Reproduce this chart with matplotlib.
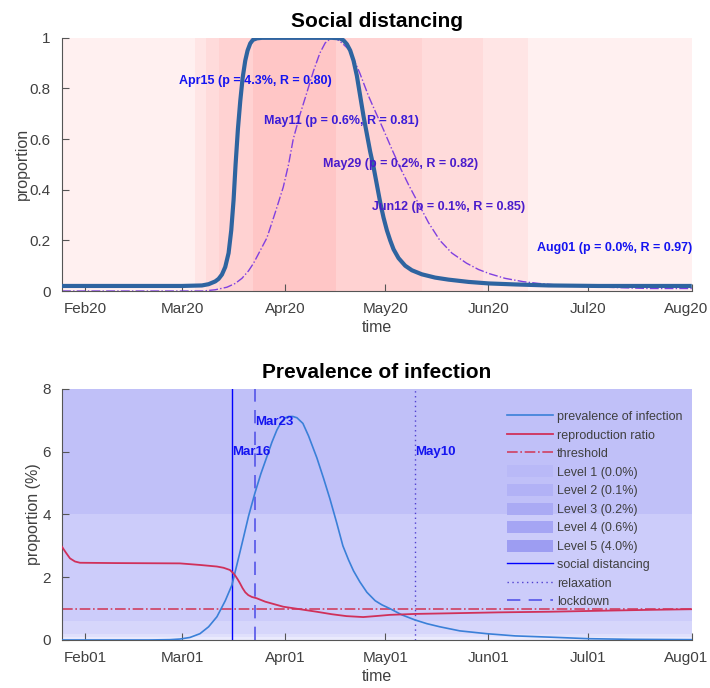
import matplotlib
matplotlib.use('Agg')
import matplotlib.pyplot as plt
import matplotlib.transforms as mtransforms
from matplotlib.patches import Patch
from matplotlib.lines import Line2D

plt.rcParams['font.family'] = ['Liberation Sans', 'DejaVu Sans']

# x axis: days since 2020-01-01
x_start, x_end = 24, 213
month_days = [31, 60, 91, 121, 152, 182, 213]
top_ticklabels = ['Feb20', 'Mar20', 'Apr20', 'May20', 'Jun20', 'Jul20', 'Aug20']
bottom_ticklabels = ['Feb01', 'Mar01', 'Apr01', 'May01', 'Jun01', 'Jul01', 'Aug01']

# social distancing (top, thick line)
sd_days = [24, 60, 66, 68, 70, 71, 72, 73, 74, 74.8, 75.5, 76.1, 76.8, 77.5, 78.2, 79,
           79.7, 80.5, 81.3, 82.5, 84, 105, 107.4, 108.5, 109.5, 110.5, 111.5, 112.5,
           113.5, 114.5, 115.5, 116.5, 117.5, 118.5, 119.5, 120.5, 121.5, 122.5, 123.5,
           125, 127, 129, 132, 136, 140, 146, 152, 160, 170, 185, 213]
sd_vals = [0.02, 0.02, 0.022, 0.027, 0.038, 0.048, 0.065, 0.095, 0.15, 0.24, 0.36, 0.5,
           0.64, 0.75, 0.84, 0.91, 0.95, 0.978, 0.992, 0.998, 1.0, 1.0, 0.998, 0.99,
           0.975, 0.95, 0.91, 0.85, 0.77, 0.69, 0.62, 0.55, 0.49, 0.42, 0.35, 0.29, 0.24,
           0.2, 0.165, 0.13, 0.1, 0.082, 0.066, 0.053, 0.045, 0.036, 0.03, 0.026, 0.022,
           0.02, 0.02]

# dash-dot curve (top)
dd_days = [24, 66.3, 70, 73.5, 76, 78, 80, 81.5, 83.5, 85.5, 88, 90.4, 92, 93.4, 95.5,
           97.4, 99.5, 101.4, 103, 104.9, 106.5, 108, 110.4, 113.4, 116, 118, 120.4,
           123, 125.4, 128, 130.4, 134, 137.4, 141, 145.4, 149, 152.4, 157, 162.4, 167,
           172.4, 182.4, 192, 200.4, 213]
dd_vals = [0, 0, 0.005, 0.015, 0.03, 0.05, 0.08, 0.11, 0.16, 0.21, 0.31, 0.41, 0.5, 0.6,
           0.7, 0.78, 0.87, 0.94, 0.98, 1.0, 0.995, 0.98, 0.95, 0.86, 0.77, 0.71, 0.64,
           0.56, 0.49, 0.42, 0.36, 0.27, 0.2, 0.15, 0.11, 0.085, 0.068, 0.05, 0.037,
           0.03, 0.024, 0.017, 0.013, 0.01, 0.01]

# shaded periods per level (top)
band_start = [24, 63.9, 67.2, 71.1, 81.3]
band_end = [213, 163.8, 150.3, 132, 106.2]
top_band_colors = ['#FFF0F0', '#FFE5E5', '#FFDBDB', '#FFD2D2', '#FFC6C6']

ann_dates = [105, 131, 149, 163, 213]
ann_y = [0.83, 0.67, 0.5, 0.33, 0.17]
ann_text = ['Apr15 (p = 4.3%, R = 0.80)', 'May11 (p = 0.6%, R = 0.81)',
            'May29 (p = 0.2%, R = 0.82)', 'Jun12 (p = 0.1%, R = 0.85)',
            'Aug01 (p = 0.0%, R = 0.97)']
ann_colors = ['#1414F0', '#3A1CD8', '#4A1CCC', '#4A1CCC', '#1414F0']

# prevalence of infection (%) (bottom)
prev_days = [24, 50, 56.4, 59.4, 62.4, 65.4, 68, 70.5, 73, 75, 76.5, 78.3, 80, 81.9,
             83.7, 85.5, 87, 88.5, 89.7, 90.9, 92, 93.3, 94.5, 96.3, 98, 100.5, 102.5,
             104.4, 106.4, 108.3, 110, 111.5, 113.4, 115.5, 118, 120, 122.4, 126, 129.9,
             133.5, 137.4, 143.4, 151.5, 160, 170.4, 182.4, 195, 213]
prev_vals = [0, 0, 0.01, 0.03, 0.08, 0.2, 0.42, 0.74, 1.25, 1.75, 2.4, 3.19, 3.95, 4.68,
             5.3, 5.84, 6.3, 6.69, 6.92, 7.07, 7.12, 7.12, 7.08, 6.9, 6.5, 5.8, 5.15,
             4.5, 3.75, 3.0, 2.55, 2.2, 1.85, 1.52, 1.25, 1.12, 1.0, 0.8, 0.64, 0.52,
             0.42, 0.29, 0.2, 0.13, 0.09, 0.04, 0.02, 0.01]

# reproduction ratio (bottom)
rr_days = [24, 25, 26.4, 27.9, 29.4, 40, 59.4, 65.4, 70.5, 72.5, 74.4, 75.2, 76, 76.8,
           77.4, 78.2, 79, 79.9, 81, 82.4, 85, 90.4, 95.4, 100.4, 105, 109.4, 114.4,
           118, 122.4, 130, 140.4, 155, 170.4, 185, 200.4, 213]
rr_vals = [2.97, 2.81, 2.6, 2.5, 2.46, 2.45, 2.44, 2.39, 2.34, 2.3, 2.23, 2.15, 2.05,
           1.92, 1.81, 1.65, 1.52, 1.43, 1.37, 1.33, 1.22, 1.06, 0.98, 0.9, 0.82, 0.76,
           0.73, 0.76, 0.8, 0.83, 0.85, 0.88, 0.9, 0.93, 0.96, 0.98]
threshold = 1.0

# prevalence levels (bottom)
level_edges = [0, 0.1, 0.2, 0.6, 4.0, 8.0]
level_labels = ['Level 1 (0.0%)', 'Level 2 (0.1%)', 'Level 3 (0.2%)', 'Level 4 (0.6%)', 'Level 5 (4.0%)']
bottom_band_colors = ['#EAEAFD', '#E0E0FC', '#D6D6FB', '#CCCCFA', '#C0C0F8']
legend_patch_colors = ['#B9B9F7', '#B2B2F6', '#AAAAF4', '#A5A5F4', '#9D9DF2']

sd_date, sd_label = 75, 'Mar16'
lock_date, lock_label = 82, 'Mar23'
relax_date, relax_label = 130, 'May10'

tick_color = '#404040'
spine_color = '#555555'

fig = plt.figure(figsize=(7.1, 6.88), dpi=100)


def style_axes(ax, labels):
    for s in ['top', 'right']:
        ax.spines[s].set_visible(False)
    for s in ['left', 'bottom']:
        ax.spines[s].set_color(spine_color)
    ax.set_xlim(x_start, x_end)
    ax.set_xticks(month_days)
    ax.set_xticklabels(labels)
    ax.tick_params(direction='in', length=5, color=spine_color, labelcolor=tick_color,
                   labelsize=11, pad=8)
    ax.set_xlabel('time', fontsize=11.5, color=tick_color, labelpad=3)
    # last label sits on the figure edge, nudge it in a little
    last = ax.get_xticklabels()[-1]
    last.set_transform(last.get_transform() +
                       mtransforms.ScaledTranslation(-4 / 72, 0, fig.dpi_scale_trans))


# ---- top: social distancing ----
ax1 = fig.add_axes([0.0873, 0.577, 0.887, 0.368])
for s, e, c in zip(band_start, band_end, top_band_colors):
    ax1.axvspan(s, e, color=c, lw=0, zorder=0)
ax1.plot(dd_days, dd_vals, color='#8040E0', lw=1, ls='-.', zorder=2)
ax1.plot(sd_days, sd_vals, color='#2E64A0', lw=3, zorder=3, solid_capstyle='butt')
for d, y, t, c in zip(ann_dates, ann_y, ann_text, ann_colors):
    ax1.text(d, y, t, ha='right', va='center', color=c, fontsize=9, fontweight='bold', zorder=4)
ax1.set_ylim(0, 1)
ax1.set_yticks([0, 0.2, 0.4, 0.6, 0.8, 1])
ax1.set_yticklabels(['0', '0.2', '0.4', '0.6', '0.8', '1'])
style_axes(ax1, top_ticklabels)
ax1.set_ylabel('proportion', fontsize=11.5, color=tick_color, labelpad=0)
ax1.set_title('Social distancing', fontsize=15, fontweight='bold', pad=8)

# ---- bottom: prevalence of infection ----
ax2 = fig.add_axes([0.0873, 0.0698, 0.887, 0.365])
for i in range(5):
    ax2.axhspan(level_edges[i], level_edges[i + 1], color=bottom_band_colors[i], lw=0, zorder=0)
ax2.axvline(sd_date, color='#0000FF', lw=1, zorder=2)
ax2.axvline(lock_date, color='#5555E8', lw=1.2, ls=(0, (8, 5)), zorder=2)
ax2.axvline(relax_date, color='#5040D0', lw=1, ls=(0, (1, 2.5)), zorder=2)
ax2.plot(prev_days, prev_vals, color='#3A80D8', lw=1.2, zorder=3)
ax2.plot(rr_days, rr_vals, color='#D0305A', lw=1.3, zorder=3)
ax2.axhline(threshold, color='#D04060', lw=1.2, ls='-.', zorder=2)
for d, y, t in [(sd_date, 6.0, sd_label), (lock_date, 6.95, lock_label), (relax_date, 6.0, relax_label)]:
    ax2.text(d, y, t, color='#1414F0', fontsize=9.5, fontweight='bold', va='center', ha='left')
ax2.set_ylim(0, 8)
ax2.set_yticks([0, 2, 4, 6, 8])
style_axes(ax2, bottom_ticklabels)
ax2.set_ylabel('proportion (%)', fontsize=11.5, color=tick_color, labelpad=1)
ax2.set_title('Prevalence of infection', fontsize=15, fontweight='bold', pad=8)

handles = [Line2D([], [], color='#3A80D8', lw=1.2),
           Line2D([], [], color='#D0305A', lw=1.3),
           Line2D([], [], color='#D04060', lw=1.2, ls='-.')]
handles += [Patch(facecolor=c, edgecolor='none') for c in legend_patch_colors]
handles += [Line2D([], [], color='#0000FF', lw=1),
            Line2D([], [], color='#5040D0', lw=1, ls=(0, (1, 2.5))),
            Line2D([], [], color='#5555E8', lw=1.2, ls=(0, (8, 5)))]
labels = ['prevalence of infection', 'reproduction ratio', 'threshold'] + level_labels + \
         ['social distancing', 'relaxation', 'lockdown']
fig.legend(handles, labels, loc='upper left', bbox_to_anchor=(507 / 710, 1 - 410 / 688),
           frameon=False, fontsize=9, handlelength=3.7, handletextpad=0.3,
           handleheight=1.1, labelspacing=0.42, borderpad=0, borderaxespad=0,
           labelcolor=tick_color)

fig.savefig('out.png', dpi=100)
